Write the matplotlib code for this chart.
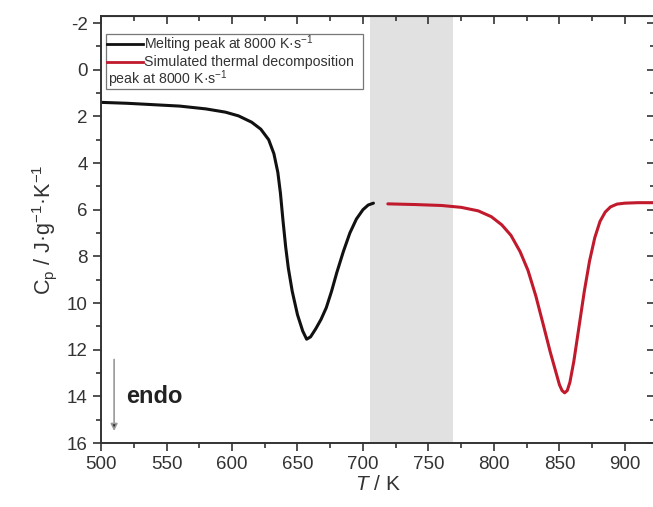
import matplotlib.pyplot as plt
from matplotlib.patches import Rectangle
from matplotlib.lines import Line2D

plt.rcParams['font.family'] = ['Liberation Sans', 'DejaVu Sans']
plt.rcParams['mathtext.fontset'] = 'custom'
plt.rcParams['mathtext.rm'] = 'Liberation Sans'
plt.rcParams['mathtext.it'] = 'Liberation Sans:italic'
plt.rcParams['axes.unicode_minus'] = False

# melting peak (measured)
T_melt = [500, 520, 540, 560, 580, 595, 605, 615, 622, 628, 632, 635, 637, 639, 641,
          643, 646, 650, 654, 657, 660, 664, 668, 672, 676, 680, 685, 690, 695, 700,
          704, 708]
cp_melt = [1.40, 1.44, 1.50, 1.56, 1.68, 1.82, 1.98, 2.25, 2.55, 3.0, 3.6, 4.4, 5.3, 6.5,
           7.6, 8.5, 9.5, 10.5, 11.2, 11.55, 11.45, 11.1, 10.7, 10.2, 9.5, 8.7, 7.8, 7.0,
           6.4, 6.0, 5.8, 5.72]

# simulated decomposition peak
T_dec = [719, 740, 760, 775, 788, 798, 806, 813, 820, 826, 832, 838, 843, 847, 850,
         852, 854, 856, 858, 861, 865, 869, 873, 877, 881, 885, 889, 894, 900, 910, 923]
cp_dec = [5.75, 5.78, 5.82, 5.9, 6.05, 6.3, 6.65, 7.1, 7.8, 8.6, 9.7, 11.0, 12.1, 12.9,
          13.5, 13.75, 13.85, 13.75, 13.4, 12.5, 11.0, 9.5, 8.2, 7.2, 6.5, 6.1, 5.88,
          5.76, 5.72, 5.70, 5.70]

band = (705, 769)

fig = plt.figure(figsize=(6.53, 5.07), dpi=100)
ax = fig.add_axes([0.1547, 0.1262, 0.8484, 0.8422])

ax.axvspan(band[0], band[1], color='#e1e1e1', lw=0, zorder=0)
ax.plot(T_melt, cp_melt, color='#111111', lw=2.2, solid_capstyle='round')
ax.plot(T_dec, cp_dec, color='#c01a2c', lw=2.2, solid_capstyle='round')

ax.set_xlim(500, 923)
ax.set_ylim(16, -2.3)
ax.set_xticks(range(500, 901, 50))
ax.set_xticks(range(525, 923, 50), minor=True)
ax.set_yticks(range(-2, 17, 2))
ax.set_yticks(range(-1, 16, 2), minor=True)

for s in ax.spines.values():
    s.set_linewidth(1.4)
    s.set_color('#333333')

ax.tick_params(which='both', direction='out', colors='#333333', width=1.2,
               labelsize=13.5, labelcolor='#333333')
ax.tick_params(which='major', length=6)
ax.tick_params(which='minor', length=3.5)

# mirrored ticks pointing inward on top and right
top = ax.secondary_xaxis('top')
top.set_xticks(range(500, 901, 50))
top.set_xticks(range(525, 923, 50), minor=True)
top.tick_params(which='both', direction='in', labeltop=False, colors='#333333', width=1.2)
top.tick_params(which='major', length=6)
top.tick_params(which='minor', length=3.5)
right = ax.secondary_yaxis('right')
right.set_yticks(range(-2, 17, 2))
right.set_yticks(range(-1, 16, 2), minor=True)
right.tick_params(which='both', direction='in', labelright=False, colors='#333333', width=1.2)
right.tick_params(which='major', length=6)
right.tick_params(which='minor', length=3.5)

ax.set_xlabel('$T$ / K', fontsize=15, color='#333333', labelpad=1)
ax.set_ylabel('C$_\\mathrm{p}$ / J·g$^{-1}$·K$^{-1}$', fontsize=15.5, color='#333333',
              labelpad=6)

# endo arrow
ax.annotate('', xy=(510, 15.6), xytext=(510, 12.3),
            arrowprops=dict(arrowstyle='-|>', color='#999999', lw=1.2,
                            mutation_scale=10, fc='#222222', ec='#999999'))
ax.text(519, 14.0, 'endo', fontsize=17, fontweight='bold', color='#222222', va='center')

# legend box drawn by hand so the wrapped line starts under the handle
tr = ax.transAxes
x0, x1 = 5 / 554, 262 / 554
y0, y1 = 1 - 73 / 427, 1 - 18 / 427
ax.add_patch(Rectangle((x0, y0), x1 - x0, y1 - y0, transform=tr, fill=True,
                       fc='white', ec='#777777', lw=0.9, zorder=5))
hx0, hx1 = 6 / 554, 42 / 554
ly1, ly2, ly3 = 1 - 28 / 427, 1 - 46 / 427, 1 - 63 / 427
ax.add_line(Line2D([hx0, hx1], [ly1, ly1], transform=tr, color='#111111', lw=2, zorder=6))
ax.add_line(Line2D([hx0, hx1], [ly2, ly2], transform=tr, color='#c01a2c', lw=2, zorder=6))
lkw = dict(transform=tr, fontsize=10.2, color='#333333', va='center', zorder=7)
ax.text(43 / 554, ly1, 'Melting peak at 8000 K·s$^{-1}$', **lkw)
ax.text(43 / 554, ly2, 'Simulated thermal decomposition', **lkw)
ax.text(7 / 554, ly3, 'peak at 8000 K·s$^{-1}$', **lkw)

fig.savefig('out.png', dpi=100)
